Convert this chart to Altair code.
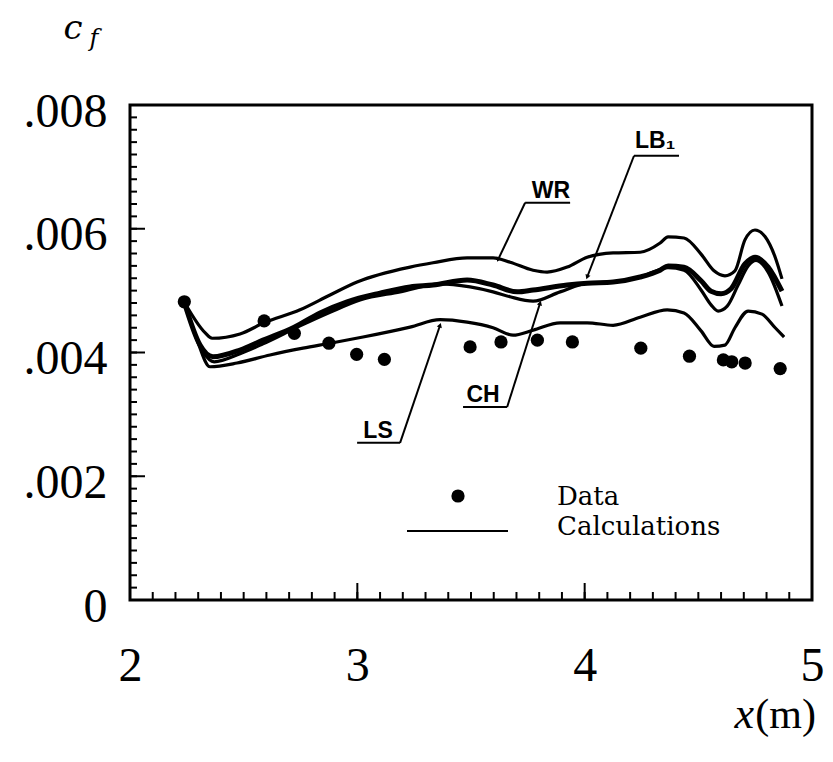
import altair as alt
import pandas as pd

# ---------------- data ----------------
data_x = [2.239, 2.590, 2.723, 2.875, 2.997, 3.119, 3.496, 3.632, 3.792, 3.946,
          4.247, 4.461, 4.610, 4.647, 4.706, 4.860]
data_cf = [0.00482, 0.00451, 0.00431, 0.00415, 0.00397, 0.00389, 0.00409, 0.00417,
           0.00420, 0.00417, 0.00407, 0.00394, 0.00388, 0.00385, 0.00383, 0.00374]

wr_x = [2.238, 2.330, 2.361, 2.484, 2.590, 2.748, 2.880, 2.999, 3.232, 3.333, 3.483,
        3.597, 3.672, 3.773, 3.835, 3.923, 4.011, 4.125, 4.244, 4.332, 4.367, 4.437,
        4.512, 4.569, 4.617, 4.661, 4.705, 4.749, 4.794, 4.838, 4.868]
wr_cf = [0.00482, 0.00432, 0.00423, 0.00430, 0.00448, 0.00469, 0.00493, 0.00514,
         0.00538, 0.00545, 0.00553, 0.00553, 0.00546, 0.00533, 0.00530, 0.00538,
         0.00554, 0.00561, 0.00562, 0.00577, 0.00587, 0.00585, 0.00559, 0.00532,
         0.00524, 0.00532, 0.00582, 0.00598, 0.00587, 0.00554, 0.00519]

lb_x = [2.238, 2.308, 2.365, 2.484, 2.585, 2.722, 2.836, 2.955, 3.100, 3.232, 3.333,
        3.483, 3.597, 3.703, 3.773, 3.923, 4.011, 4.125, 4.244, 4.332, 4.367, 4.437,
        4.512, 4.556, 4.600, 4.644, 4.705, 4.750, 4.807, 4.868]
lb_cf = [0.00482, 0.00412, 0.00393, 0.00404, 0.00420, 0.00441, 0.00464, 0.00482,
         0.00496, 0.00506, 0.00509, 0.00517, 0.00509, 0.00498, 0.00501, 0.00509,
         0.00512, 0.00514, 0.00522, 0.00533, 0.00540, 0.00538, 0.00516, 0.00499,
         0.00495, 0.00503, 0.00543, 0.00554, 0.00538, 0.00499]

ch_x = [2.238, 2.321, 2.370, 2.484, 2.585, 2.748, 2.880, 3.012, 3.188, 3.364, 3.496,
        3.597, 3.672, 3.773, 3.892, 4.011, 4.125, 4.244, 4.367, 4.437, 4.512, 4.556,
        4.587, 4.627, 4.675, 4.719, 4.754, 4.807, 4.868]
ch_cf = [0.00482, 0.00401, 0.00385, 0.00398, 0.00414, 0.00443, 0.00465, 0.00485,
         0.00498, 0.00511, 0.00506, 0.00498, 0.00490, 0.00483, 0.00498, 0.00512,
         0.00514, 0.00522, 0.00537, 0.00533, 0.00501, 0.00477, 0.00467, 0.00475,
         0.00509, 0.00540, 0.00549, 0.00530, 0.00475]

ls_x = [2.238, 2.295, 2.352, 2.471, 2.616, 2.761, 2.880, 3.025, 3.232, 3.364, 3.483,
        3.597, 3.685, 3.773, 3.892, 4.011, 4.125, 4.244, 4.363, 4.437, 4.512, 4.569,
        4.617, 4.661, 4.719, 4.780, 4.838, 4.877]
ls_cf = [0.00482, 0.00420, 0.00377, 0.00383, 0.00396, 0.00407, 0.00415, 0.00425,
         0.00441, 0.00453, 0.00449, 0.00440, 0.00428, 0.00436, 0.00448, 0.00448,
         0.00444, 0.00457, 0.00469, 0.00464, 0.00435, 0.00410, 0.00412, 0.00440,
         0.00467, 0.00462, 0.00440, 0.00425]

# curve labels: text, text anchor, underline span, leader line (start -> arrow tip)
lab_text = ["WR", "LB\u2081", "CH", "LS"]
lab_x = [3.852, 4.310, 3.553, 3.091]
lab_cf = [0.00650, 0.00730, 0.00320, 0.00262]
ul_x1 = [3.738, 4.217, 3.465, 2.999]
ul_x2 = [3.936, 4.415, 3.659, 3.188]
ul_cf = [0.00642, 0.00718, 0.00312, 0.00254]
ld_x1 = [3.738, 4.217, 3.659, 3.188]
ld_cf1 = [0.00642, 0.00718, 0.00312, 0.00254]
ld_x2 = [3.619, 4.011, 3.804, 3.364]
ld_cf2 = [0.00550, 0.00522, 0.00480, 0.00444]
arrow_angle = [205, 201, 17, 19]

x_major = [2, 3, 4, 5]
x_minor = [round(2 + 0.1 * i, 1) for i in range(31)]
y_major = [0, 0.002, 0.004, 0.006, 0.008]
y_minor = [round(0.0002 * i, 4) for i in range(41)]

# ---------------- chart ----------------
W, H = 682, 495
SERIF = "Liberation Serif, DejaVu Serif, serif"
XS = alt.Scale(domain=[2, 5], nice=False, zero=False)
YS = alt.Scale(domain=[0, 0.008], nice=False, zero=False)
x_axis = alt.Axis(values=x_major, title=None, labelPadding=42, labelFontSize=48,
                  labelFont=SERIF, labelColor="black", ticks=False, tickSize=0,
                  domain=False, grid=False, labelFlush=False)
y_axis = alt.Axis(values=y_major, title=None, labelPadding=23, labelOffset=7,
                  labelFontSize=48, labelFont=SERIF, labelColor="black",
                  ticks=False, tickSize=0, domain=False, grid=False, labelFlush=False,
                  labelExpr="datum.value == 0 ? '0' : replace(format(datum.value, '.3f'), '0.', '.')")


def X(f):
    return alt.X(f, type="quantitative", scale=XS, axis=x_axis)


def Y(f):
    return alt.Y(f, type="quantitative", scale=YS, axis=y_axis)


curves = pd.concat([
    pd.DataFrame({"x": wr_x, "cf": wr_cf, "m": "WR"}),
    pd.DataFrame({"x": ch_x, "cf": ch_cf, "m": "CH"}),
    pd.DataFrame({"x": ls_x, "cf": ls_cf, "m": "LS"}),
])
thin = alt.Chart(curves).mark_line(color="black", strokeWidth=3.2, interpolate="monotone").encode(
    x=X("x"), y=Y("cf"), detail="m:N", order="x:Q")
thick = alt.Chart(pd.DataFrame({"x": lb_x, "cf": lb_cf})).mark_line(
    color="black", strokeWidth=5, interpolate="monotone").encode(x=X("x"), y=Y("cf"), order="x:Q")

dots = alt.Chart(pd.DataFrame({"x": data_x, "cf": data_cf})).mark_point(
    filled=True, color="black", size=175, opacity=1, shape="circle").encode(x=X("x"), y=Y("cf"))

lab_df = pd.DataFrame({"t": lab_text, "x": lab_x, "cf": lab_cf,
                       "ux1": ul_x1, "ux2": ul_x2, "ucf": ul_cf,
                       "lx1": ld_x1, "lcf1": ld_cf1, "lx2": ld_x2, "lcf2": ld_cf2,
                       "ang": arrow_angle})
lab_text_m = alt.Chart(lab_df).mark_text(
    font="Liberation Sans, DejaVu Sans, sans-serif", fontWeight="bold", fontSize=23,
    color="black", align="center", baseline="alphabetic").encode(x=X("x"), y=Y("cf"), text="t:N")
underline = alt.Chart(lab_df).mark_rule(color="black", strokeWidth=2).encode(
    x=X("ux1"), x2="ux2", y=Y("ucf"))
leader = alt.Chart(lab_df).mark_rule(color="black", strokeWidth=2).encode(
    x=X("lx1"), y=Y("lcf1"), x2="lx2", y2="lcf2")
arrows = alt.Chart(lab_df).mark_point(shape="triangle-up", filled=True, color="black",
                                       size=28, opacity=1).encode(
    x=X("lx2"), y=Y("lcf2"), angle=alt.Angle("ang:Q", scale=None))

# inward ticks
yt_major = alt.Chart(pd.DataFrame({"v": y_major})).mark_rule(color="black", strokeWidth=2).encode(
    y=Y("v"), x=alt.value(0), x2=alt.value(15))
yt_minor = alt.Chart(pd.DataFrame({"v": y_minor})).mark_rule(color="black", strokeWidth=2).encode(
    y=Y("v"), x=alt.value(0), x2=alt.value(7))
xt_major = alt.Chart(pd.DataFrame({"v": x_major})).mark_rule(color="black", strokeWidth=2).encode(
    x=X("v"), y=alt.value(H), y2=alt.value(H - 17))
xt_minor = alt.Chart(pd.DataFrame({"v": x_minor})).mark_rule(color="black", strokeWidth=2).encode(
    x=X("v"), y=alt.value(H), y2=alt.value(H - 8))

# legend (drawn inside the frame)
one = pd.DataFrame({"k": [0]})
leg_dot = alt.Chart(one).mark_point(filled=True, color="black", size=175, opacity=1).encode(
    x=alt.value(328), y=alt.value(391))
leg_line = alt.Chart(one).mark_rule(color="black", strokeWidth=2).encode(
    x=alt.value(277), x2=alt.value(378), y=alt.value(426))
leg_t1 = alt.Chart(one).mark_text(font="DejaVu Serif", fontSize=26, align="left",
                                  baseline="alphabetic", color="black").encode(
    x=alt.value(427), y=alt.value(400), text=alt.value("Data"))
leg_t2 = alt.Chart(one).mark_text(font="DejaVu Serif", fontSize=26, align="left",
                                  baseline="alphabetic", color="black").encode(
    x=alt.value(427), y=alt.value(430), text=alt.value("Calculations"))

# axis titles: c_f (top left) and x(m) (bottom right)
t_c = alt.Chart(one).mark_text(font="DejaVu Serif", fontSize=34, fontStyle="italic", align="center",
                               baseline="alphabetic", color="black").encode(
    x=alt.value(-57), y=alt.value(-66), text=alt.value("c"))
t_f = alt.Chart(one).mark_text(font="DejaVu Serif", fontSize=24, fontStyle="italic", align="center",
                               baseline="alphabetic", color="black").encode(
    x=alt.value(-36), y=alt.value(-59), text=alt.value("f"))
t_x = alt.Chart(one).mark_text(font=SERIF, fontSize=44, fontStyle="italic", align="right",
                               baseline="alphabetic", color="black").encode(
    x=alt.value(624), y=alt.value(623), text=alt.value("x"))
t_m = alt.Chart(one).mark_text(font=SERIF, fontSize=42, align="right",
                               baseline="alphabetic", color="black").encode(
    x=alt.value(686), y=alt.value(623), text=alt.value("(m)"))

chart = alt.layer(
    yt_minor, yt_major, xt_minor, xt_major,
    thin, thick, dots, underline, leader, arrows, lab_text_m,
    leg_dot, leg_line, leg_t1, leg_t2, t_c, t_f, t_x, t_m,
).properties(
    width=W, height=H,
    autosize=alt.AutoSizeParams(type="none"),
    padding={"left": 122, "top": 97, "right": 13, "bottom": 154},
    background="white",
).configure_view(stroke="black", strokeWidth=3)

chart.save("out.html", embed_options={"renderer": "svg", "actions": False})
